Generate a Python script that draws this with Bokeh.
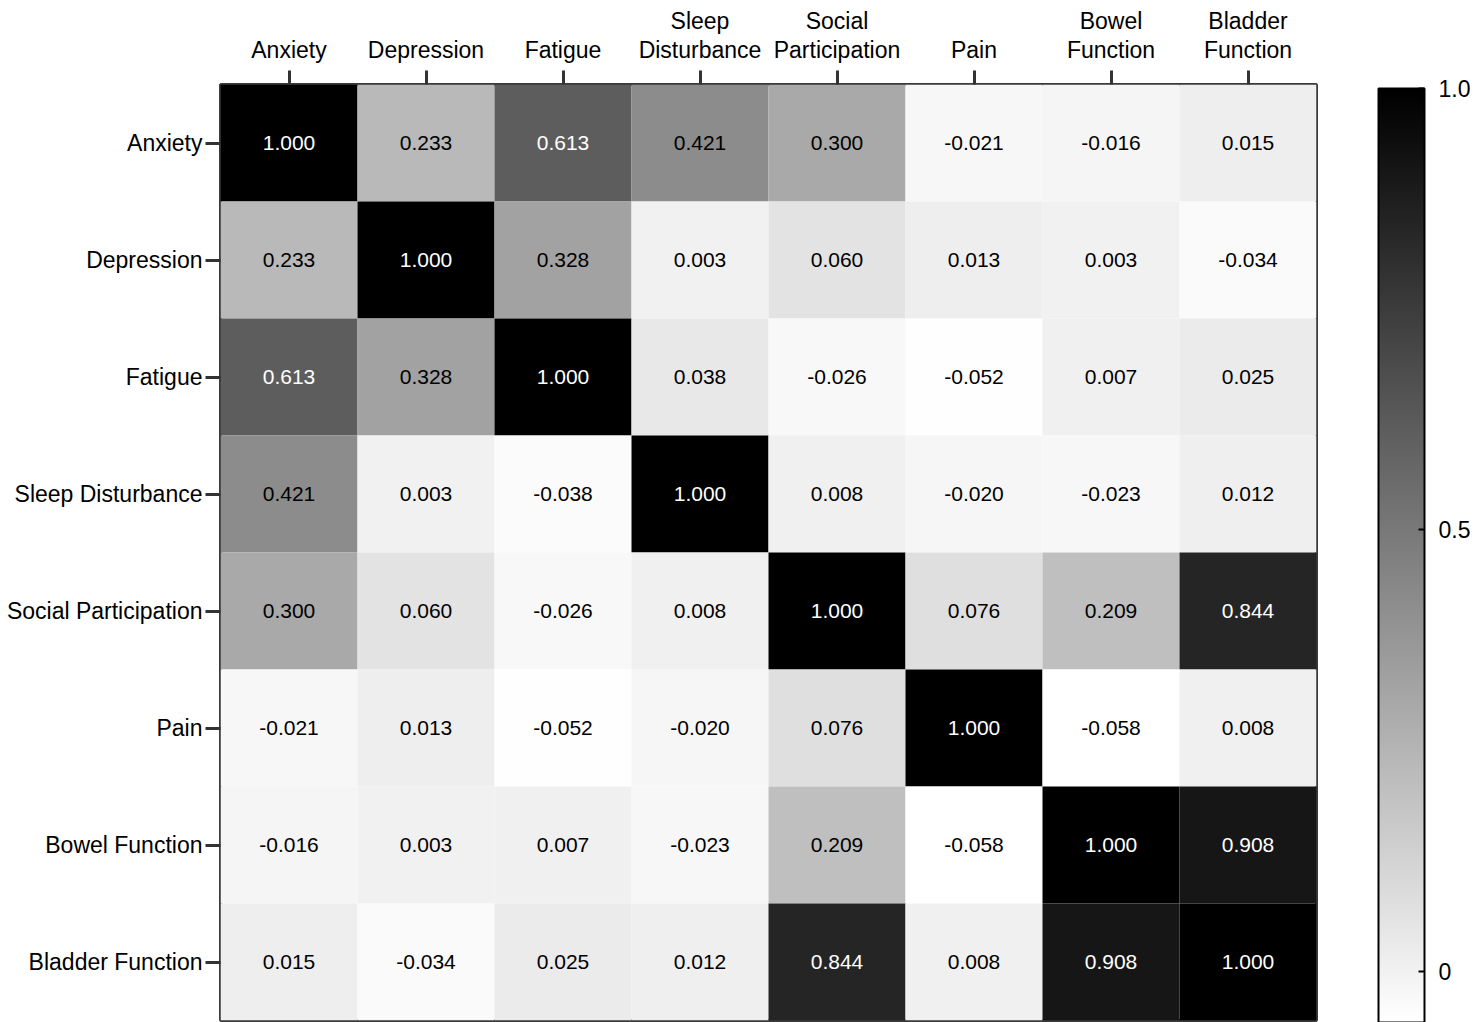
from bokeh.plotting import figure
from bokeh.models import (ColumnDataSource, LinearColorMapper, ColorBar, FixedTicker,
                          Range1d, LinearAxis)
from bokeh.palettes import Greys256
from bokeh.transform import transform
from bokeh.core.properties import value
from bokeh.embed import file_html
from bokeh.resources import INLINE

# ---- data ----
categories = ["Anxiety", "Depression", "Fatigue", "Sleep Disturbance",
              "Social Participation", "Pain", "Bowel Function", "Bladder Function"]
top_line1 = ["", "", "", "Sleep", "Social", "", "Bowel", "Bladder"]
top_line2 = ["Anxiety", "Depression", "Fatigue", "Disturbance",
             "Participation", "Pain", "Function", "Function"]

row_anxiety = [1.000, 0.233, 0.613, 0.421, 0.300, -0.021, -0.016, 0.015]
row_depression = [0.233, 1.000, 0.328, 0.003, 0.060, 0.013, 0.003, -0.034]
row_fatigue = [0.613, 0.328, 1.000, 0.038, -0.026, -0.052, 0.007, 0.025]
row_sleep = [0.421, 0.003, -0.038, 1.000, 0.008, -0.020, -0.023, 0.012]
row_social = [0.300, 0.060, -0.026, 0.008, 1.000, 0.076, 0.209, 0.844]
row_pain = [-0.021, 0.013, -0.052, -0.020, 0.076, 1.000, -0.058, 0.008]
row_bowel = [-0.016, 0.003, 0.007, -0.023, 0.209, -0.058, 1.000, 0.908]
row_bladder = [0.015, -0.034, 0.025, 0.012, 0.844, 0.008, 0.908, 1.000]

rows = [row_anxiety, row_depression, row_fatigue, row_sleep,
        row_social, row_pain, row_bowel, row_bladder]

color_low = -0.058
color_high = 1.0
colorbar_ticks = [0, 0.5, 1.0]
colorbar_tick_labels = {0: "0", 0.5: "0.5", 1: "1.0"}

# ---- build table (cell centres = category index + 0.5) ----
n = len(categories)
centers = [i + 0.5 for i in range(n)]
xs, ys, vals, labels, tcolors = [], [], [], [], []
for r in range(n):
    for c in range(n):
        v = rows[r][c]
        xs.append(centers[c])
        ys.append(centers[r])
        vals.append(v)
        labels.append(f"{v:.3f}")
        tcolors.append("white" if v > 0.5 else "black")

src = ColumnDataSource(dict(x=xs, y=ys, v=vals, label=labels, tcolor=tcolors))

palette = list(reversed(Greys256))
mapper = LinearColorMapper(palette=palette, low=color_low, high=color_high)

FONT = "Liberation Sans"

p = figure(width=1476, height=1022,
           x_range=Range1d(0, n), y_range=Range1d(n, 0),
           x_axis_location="above",
           toolbar_location=None, output_backend="svg",
           min_border_left=220, min_border_right=160,
           min_border_top=84, min_border_bottom=2)

p.rect(x="x", y="y", width=1, height=1, source=src,
       fill_color=transform("v", mapper), line_color=None)
p.text(x="x", y="y", text="label", source=src, text_color="tcolor",
       text_align="center", text_baseline="middle",
       text_font=value(FONT), text_font_size="21px")

p.grid.visible = False
p.outline_line_color = "#3a3a3a"
p.outline_line_width = 3
p.background_fill_color = "white"

for ax in (p.xaxis[0], p.yaxis[0]):
    ax.ticker = FixedTicker(ticks=centers)
    ax.axis_line_color = None
    ax.major_tick_in = 0
    ax.major_tick_line_width = 3
    ax.major_tick_line_color = "#333333"
    ax.minor_tick_line_color = None
    ax.major_label_text_font = FONT
    ax.major_label_text_font_size = "23px"
    ax.major_label_text_color = "black"

p.xaxis[0].major_tick_out = 14
p.xaxis[0].major_label_standoff = 8
p.xaxis[0].major_label_overrides = dict(zip(centers, top_line2))
p.yaxis[0].major_tick_out = 15
p.yaxis[0].major_label_standoff = 3
p.yaxis[0].major_label_overrides = dict(zip(centers, categories))

# upper line of the two-line top labels
ax2 = LinearAxis(ticker=FixedTicker(ticks=centers),
                 axis_line_color=None, major_tick_line_color=None,
                 minor_tick_line_color=None, major_tick_out=0, major_tick_in=0,
                 major_label_standoff=0,
                 major_label_text_font=FONT, major_label_text_font_size="23px",
                 major_label_text_color="black",
                 major_label_overrides=dict(zip(centers, top_line1)))
p.add_layout(ax2, "above")

cb = ColorBar(color_mapper=mapper, ticker=FixedTicker(ticks=colorbar_ticks),
              major_label_overrides=colorbar_tick_labels,
              width=46, height=934, padding=0, margin=0,
              label_standoff=14,
              major_label_text_font=FONT, major_label_text_font_size="23px",
              major_label_text_color="black",
              bar_line_color="black", bar_line_width=2,
              major_tick_line_color="black", major_tick_in=6, major_tick_out=0,
              major_tick_line_width=2,
              background_fill_color=None, border_line_color=None,
              location=(1158, -2))
p.add_layout(cb, "center")

open("out.html", "w").write(file_html(p, INLINE))
